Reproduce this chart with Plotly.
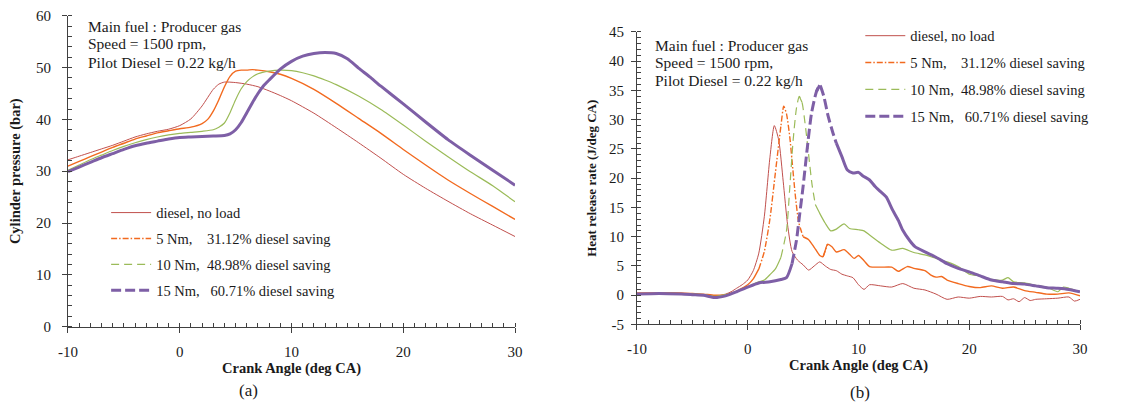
import plotly.graph_objects as go

# ---------------- (a) Cylinder pressure (bar) ----------------
cp_diesel_x = [-10, -9, -8, -7, -6, -5, -4, -3, -2, -1, 0, 1, 2, 3, 3.5, 4, 5, 6, 7, 8, 9, 10,
               12, 14, 16, 18, 20, 22, 24, 26, 28, 30]
cp_diesel_y = [32.2, 32.9, 33.6, 34.3, 35.0, 35.8, 36.6, 37.2, 37.7, 38.1, 38.8, 40.1, 42.6, 45.8,
               46.8, 47.2, 47.1, 46.8, 46.3, 45.5, 44.6, 43.6, 41.2, 38.4, 35.5, 32.5, 29.4, 26.7,
               24.2, 21.8, 19.6, 17.4]

cp_5nm_x = [-10, -9, -8, -7, -6, -5, -4, -3, -2, -1, 0, 1, 2, 2.5, 3, 3.5, 4, 4.5, 5, 5.5, 6,
            6.5, 7, 8, 9, 10, 12, 14, 16, 18, 20, 22, 24, 26, 28, 30]
cp_5nm_y = [31.0, 31.9, 32.8, 33.7, 34.6, 35.4, 36.2, 36.8, 37.4, 37.8, 38.2, 38.5, 39.2, 40.0,
            41.6, 43.8, 46.3, 48.3, 49.3, 49.5, 49.5, 49.6, 49.5, 49.2, 48.7, 47.9, 45.8, 43.1,
            40.2, 37.3, 34.2, 31.2, 28.3, 25.7, 23.2, 20.7]

cp_10nm_x = [-10, -9, -8, -7, -6, -5, -4, -3, -2, -1, 0, 1, 2, 3, 3.5, 4, 4.5, 5, 5.5, 6, 6.5,
             7, 8, 9, 10, 11, 12, 13, 14, 16, 18, 20, 22, 24, 26, 28, 30]
cp_10nm_y = [30.2, 31.2, 32.2, 33.1, 34.0, 34.8, 35.5, 36.1, 36.6, 37.0, 37.3, 37.5, 37.7, 38.0,
             38.5, 39.3, 41.3, 43.8, 45.9, 47.3, 48.2, 48.8, 49.3, 49.5, 49.4, 49.0, 48.4, 47.6,
             46.7, 44.5, 41.9, 38.9, 35.8, 32.8, 29.9, 27.2, 24.1]

cp_15nm_x = [-10, -9, -8, -7, -6, -5, -4, -3, -2, -1, 0, 1, 2, 3, 4, 4.5, 5, 5.5, 6, 6.5, 7,
             7.5, 8, 9, 10, 11, 12, 13, 14, 15, 16, 17, 18, 20, 22, 24, 26, 28, 30]
cp_15nm_y = [29.9, 30.8, 31.7, 32.6, 33.4, 34.2, 34.9, 35.4, 35.8, 36.2, 36.5, 36.6, 36.7, 36.8,
             36.9, 37.2, 38.0, 39.4, 41.3, 43.2, 45.0, 46.5, 47.6, 49.7, 51.2, 52.2, 52.7, 52.9,
             52.7, 51.7, 49.9, 48.2, 46.4, 43.0, 39.5, 36.1, 33.1, 30.2, 27.3]

# ---------------- (b) Heat release rate (J/deg CA) ----------------
hr_diesel_x = [-10, -9, -8, -7, -6, -5, -4, -3, -2, -1.5, -1, -0.5, 0, 0.5, 1, 1.5, 2, 2.4, 2.8,
               3.2, 3.6, 4, 4.5, 5, 5.5, 6, 6.5, 7, 7.5, 8, 8.5, 9, 9.5, 10, 10.5, 11, 12, 13,
               14, 15, 16, 17, 18, 19, 20, 21, 22, 23, 23.5, 24, 24.5, 25, 25.5, 26, 27, 28, 29,
               29.5, 30]
hr_diesel_y = [0.2, 0.3, 0.3, 0.4, 0.3, 0.2, 0.1, -0.2, 0.2, 0.6, 1.2, 1.8, 2.6, 4.2, 7.2, 13.5,
               23.5, 29.0, 26.5, 19.5, 12.0, 7.5, 6.0, 5.2, 4.3, 5.0, 5.7, 5.0, 4.4, 4.2, 3.6, 3.3,
               3.0, 1.8, 1.0, 1.8, 1.6, 1.4, 2.0, 1.2, 0.9, 0.2, -0.7, -0.3, -0.5, -0.2, -0.3,
               -0.2, -0.8, -0.6, -1.1, -0.4, -0.9, -0.7, -0.6, -0.5, -0.3, -1.0, -0.7]

hr_5nm_x = [-10, -8, -6, -5, -4, -3, -2, -1, -0.5, 0, 0.5, 1, 1.5, 2, 2.5, 3, 3.25, 3.5, 3.8, 4,
            4.3, 4.6, 5, 5.5, 6, 6.5, 6.8, 7.2, 7.6, 8, 8.7, 9.2, 9.6, 10, 10.5, 11, 12, 13,
            13.6, 14.4, 15, 16, 16.5, 17, 17.5, 18, 19, 20, 21, 22, 23, 24, 25, 26, 27, 28, 29, 30]
hr_5nm_y = [0.4, 0.4, 0.4, 0.3, 0.2, 0.0, 0.1, 0.7, 1.2, 1.8, 2.8, 4.5, 7.5, 13.0, 21.0, 29.0,
            32.3, 31.0, 27.0, 23.0, 17.0, 12.5, 10.0, 9.5, 8.2, 6.8, 6.6, 8.7, 8.3, 7.4, 7.8, 7.0,
            6.3, 6.8, 5.9, 4.9, 4.8, 4.8, 4.1, 4.9, 4.6, 4.2, 3.5, 3.1, 3.2, 2.6, 2.0, 1.5, 1.3,
            1.6, 1.2, 1.4, 0.8, 0.5, 0.2, 0.2, 0.4, -0.1]

hr_10nm_x = [-10, -8, -6, -5, -4, -3, -2, -1, 0, 0.5, 1, 1.5, 2, 2.5, 3, 3.5, 3.8, 4.1, 4.4,
             4.65, 4.9, 5.2, 5.5, 5.8, 6.1, 6.5, 7, 7.5, 8, 8.7, 9.2, 10, 10.5, 11, 12, 13, 14,
             15, 16, 17, 18, 19, 20, 21, 22, 23, 23.5, 24, 25, 26, 27, 28, 28.5, 29, 30]
hr_10nm_y = [0.3, 0.3, 0.3, 0.2, 0.1, -0.2, 0.1, 0.6, 1.4, 1.9, 2.3, 2.6, 3.5, 4.5, 6.5, 11.0,
             18.5, 26.5, 32.0, 34.0, 33.0, 29.0, 24.0, 19.0, 15.5, 14.0, 12.3, 11.0, 11.3, 12.2,
             11.4, 11.2, 11.0, 10.3, 8.9, 7.7, 8.0, 7.3, 6.9, 6.3, 5.7, 4.9, 3.6, 3.3, 2.7, 2.6,
             3.0, 2.3, 2.1, 1.7, 1.4, 0.6, 1.4, 1.2, 0.6]

hr_15nm_x = [-10, -8, -6, -5, -4, -3, -2, -1, 0, 1, 2, 3, 3.5, 4, 4.4, 4.7, 5, 5.36, 5.75, 6.2,
             6.5, 6.87, 7.26, 7.7, 8, 8.5, 9, 9.5, 10, 10.4, 11, 11.5, 12, 12.5, 13.1, 13.6, 14,
             14.6, 15.1, 16, 17, 18, 19, 20, 21, 22, 23, 24, 25, 26, 27, 28, 29, 30]
hr_15nm_y = [0.2, 0.3, 0.2, 0.1, 0.0, -0.4, -0.1, 0.6, 1.4, 2.1, 2.3, 2.7, 3.0, 5.4, 9.4, 14.0,
             18.6, 24.9, 31.0, 34.8, 35.9, 34.0, 30.6, 27.7, 26.0, 23.7, 21.4, 20.9, 21.0, 20.4,
             19.7, 18.6, 17.7, 16.8, 14.5, 12.8, 11.1, 9.4, 8.3, 7.4, 6.5, 5.4, 4.6, 4.0, 3.3,
             2.6, 2.3, 2.0, 1.9, 1.6, 1.3, 1.2, 1.0, 0.6]

# tick labels (hyphen-minus as in the original)
x_tick_vals = [-10, 0, 10, 20, 30]
x_tick_text = ["-10", "0", "10", "20", "30"]
cp_tick_vals = [0, 10, 20, 30, 40, 50, 60]
cp_tick_text = ["0", "10", "20", "30", "40", "50", "60"]
hr_tick_vals = [-5, 0, 5, 10, 15, 20, 25, 30, 35, 40, 45]
hr_tick_text = ["-5", "0", "5", "10", "15", "20", "25", "30", "35", "40", "45"]

series_names = ["diesel, no load",
                "5 Nm,    31.12% diesel saving",
                "10 Nm,  48.98% diesel saving",
                "15 Nm,   60.71% diesel saving"]
note_lines = ["Main fuel : Producer gas", "Speed = 1500 rpm,", "Pilot Diesel = 0.22 kg/h"]

colors = ["#C0504D", "#F26A1F", "#9BBB59", "#7E5FA6"]
widths = [1.0, 1.4, 1.2, 3.0]
dashes = ["solid", "6px,2px,1.5px,2px", "8px,5px", "10px,4px"]

FONT = "Liberation Serif, Times New Roman, serif"
TXT = "#1a1a1a"
AX = "#404040"

fig = go.Figure()

cp_data = [(cp_diesel_x, cp_diesel_y), (cp_5nm_x, cp_5nm_y), (cp_10nm_x, cp_10nm_y), (cp_15nm_x, cp_15nm_y)]
hr_data = [(hr_diesel_x, hr_diesel_y), (hr_5nm_x, hr_5nm_y), (hr_10nm_x, hr_10nm_y), (hr_15nm_x, hr_15nm_y)]

# (a) curves drawn solid (dense experimental data), legend shows line styles
for i, (xs, ys) in enumerate(cp_data):
    fig.add_trace(go.Scatter(x=xs, y=ys, mode="lines", xaxis="x", yaxis="y", showlegend=False,
                             line=dict(color=colors[i], width=widths[i], shape="spline", smoothing=0.6)))
for i in range(4):
    fig.add_trace(go.Scatter(x=[None], y=[None], mode="lines", xaxis="x", yaxis="y",
                             name=series_names[i], legend="legend", legendgroup="a%d" % i,
                             line=dict(color=colors[i], width=widths[i], dash=dashes[i])))


def split_steep(xs, ys, thr=5.0):
    n = len(xs)
    steep = [abs((ys[k + 1] - ys[k]) / (xs[k + 1] - xs[k])) > thr for k in range(n - 1)]
    sol, das = [], []
    for k in range(n):
        left = steep[k - 1] if k > 0 else None
        right = steep[k] if k < n - 1 else None
        in_d = (left is True) or (right is True)
        in_s = (left is False) or (right is False)
        sol.append(ys[k] if in_s else None)
        das.append(ys[k] if in_d else None)
    return sol, das


# (b) curves: dashed where steep (sparse samples), solid elsewhere
for i, (xs, ys) in enumerate(hr_data):
    if i == 0:
        fig.add_trace(go.Scatter(x=xs, y=ys, mode="lines", xaxis="x2", yaxis="y2", showlegend=False,
                                 line=dict(color=colors[i], width=widths[i], shape="spline", smoothing=0.6)))
        continue
    sol, das = split_steep(xs, ys)
    fig.add_trace(go.Scatter(x=xs, y=sol, mode="lines", xaxis="x2", yaxis="y2", showlegend=False,
                             line=dict(color=colors[i], width=widths[i], shape="spline", smoothing=0.6)))
    fig.add_trace(go.Scatter(x=xs, y=das, mode="lines", xaxis="x2", yaxis="y2", showlegend=False,
                             line=dict(color=colors[i], width=widths[i], dash=dashes[i],
                                       shape="spline", smoothing=0.6)))
for i in range(4):
    fig.add_trace(go.Scatter(x=[None], y=[None], mode="lines", xaxis="x2", yaxis="y2",
                             name=series_names[i], legend="legend2", legendgroup="b%d" % i,
                             line=dict(color=colors[i], width=widths[i], dash=dashes[i])))

axis_common = dict(showline=True, linecolor=AX, linewidth=1, showgrid=False, zeroline=False,
                   automargin=False, tickmode="array",
                   ticks="outside", ticklen=5, tickcolor=AX, tickwidth=1,
                   tickfont=dict(family=FONT, size=15, color=TXT))

fig.update_layout(
    width=1129, height=403,
    margin=dict(l=0, r=0, t=0, b=0, autoexpand=False),
    paper_bgcolor="white", plot_bgcolor="white",
    font=dict(family=FONT, color=TXT),
    xaxis=dict(axis_common, domain=[0.0602, 0.4562], range=[-10, 30],
               tickvals=x_tick_vals, ticktext=x_tick_text,
               anchor="y", ticklabelstandoff=6,
               minor=dict(tickmode="linear", tick0=-10, dtick=1, ticks="inside", ticklen=4, tickcolor=AX),
               title=dict(text="<b>Crank Angle (deg CA)</b>", standoff=0,
                          font=dict(family=FONT, size=14.5, color=TXT))),
    yaxis=dict(axis_common, domain=[0.1893, 0.961], range=[0, 60],
               tickvals=cp_tick_vals, ticktext=cp_tick_text, anchor="x",
               ticklabelstandoff=8,
               minor=dict(tickmode="linear", tick0=0, dtick=2, ticks="inside", ticklen=4, tickcolor=AX),
               title=dict(text="<b>Cylinder pressure (bar)</b>", standoff=11,
                          font=dict(family=FONT, size=14.5, color=TXT))),
    xaxis2=dict(axis_common, domain=[0.5642, 0.9566], range=[-10, 30],
                tickvals=x_tick_vals, ticktext=x_tick_text,
                anchor="y2", ticklabelstandoff=6,
                minor=dict(tickmode="linear", tick0=-10, dtick=1, ticks="inside", ticklen=4, tickcolor=AX),
                title=dict(text="<b>Crank Angle (deg CA)</b>", standoff=0,
                           font=dict(family=FONT, size=14.5, color=TXT))),
    yaxis2=dict(axis_common, domain=[0.1948, 0.9206], range=[-5, 45],
                tickvals=hr_tick_vals, ticktext=hr_tick_text, anchor="x2",
                ticklabelstandoff=4,
                minor=dict(tickmode="linear", tick0=-5, dtick=1, ticks="inside", ticklen=4, tickcolor=AX),
                title=dict(text="<b>Heat release rate (J/deg CA)</b>", standoff=9,
                           font=dict(family=FONT, size=13, color=TXT))),
    legend=dict(x=0.094, y=0.512, xanchor="left", yanchor="top", bgcolor="rgba(0,0,0,0)",
                font=dict(family=FONT, size=14.5, color=TXT), itemwidth=40, tracegroupgap=4),
    legend2=dict(x=0.762, y=0.951, xanchor="left", yanchor="top", bgcolor="rgba(0,0,0,0)",
                 font=dict(family=FONT, size=14.5, color=TXT), itemwidth=40, tracegroupgap=5),
    showlegend=True,
)

# condition notes, one line each (pixel centres 26/44/62 and 46/63/80 px from top)
note_y_a = [0.935, 0.891, 0.846]
note_y_b = [0.886, 0.844, 0.801]
for k, line in enumerate(note_lines):
    fig.add_annotation(text=line, xref="paper", yref="paper", x=0.0765, y=note_y_a[k],
                       xanchor="left", yanchor="middle", showarrow=False,
                       font=dict(family=FONT, size=15.5, color=TXT))
    fig.add_annotation(text=line, xref="paper", yref="paper", x=0.5785, y=note_y_b[k],
                       xanchor="left", yanchor="middle", showarrow=False,
                       font=dict(family=FONT, size=15.5, color=TXT))

fig.add_annotation(text="(a)", xref="paper", yref="paper", x=0.22, y=0.032, xanchor="center",
                   yanchor="middle", showarrow=False, font=dict(family=FONT, size=17, color=TXT))
fig.add_annotation(text="(b)", xref="paper", yref="paper", x=0.762, y=0.027, xanchor="center",
                   yanchor="middle", showarrow=False, font=dict(family=FONT, size=17, color=TXT))

fig.write_html("out.html")
